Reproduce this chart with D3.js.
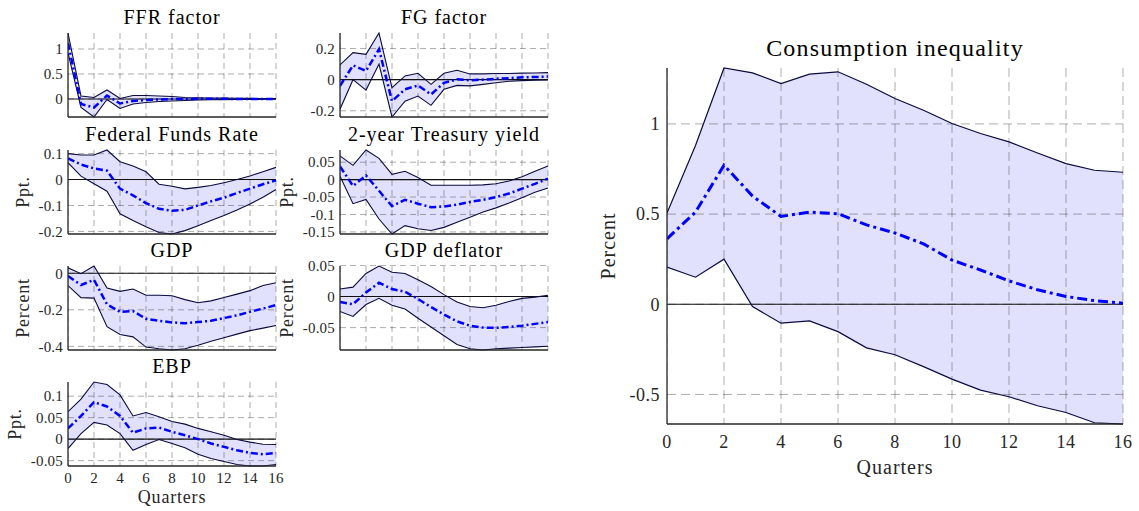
<!DOCTYPE html>
<html>
<head>
<meta charset="utf-8">
<script src="https://cdn.jsdelivr.net/npm/d3@7"></script>
<style>
  body { margin: 0; background: #fff; }
  svg text { font-family: "Liberation Serif", "Times New Roman", serif; }
</style>
</head>
<body>
<svg id="fig" width="1139" height="511"></svg>
<script>
// Horizon in quarters after the shock
const quarters = [0, 1, 2, 3, 4, 5, 6, 7, 8, 9, 10, 11, 12, 13, 14, 15, 16];
const xTicks = [0, 2, 4, 6, 8, 10, 12, 14, 16];

// FFR factor
const ffrFactorUpper = [1.32, 0.06, 0.03, 0.18, 0.01, 0.07, 0.07, 0.06, 0.05, 0.03, 0.025, 0.02, 0.018, 0.015, 0.012, 0.01, 0.01];
const ffrFactorMean  = [1.12, -0.10, -0.17, 0.07, -0.09, -0.04, -0.02, -0.01, 0.0, 0.0, 0.003, 0.003, 0.003, 0.002, 0.002, 0.002, 0.002];
const ffrFactorLower = [0.92, -0.17, -0.36, -0.01, -0.19, -0.10, -0.07, -0.05, -0.04, -0.03, -0.02, -0.015, -0.012, -0.01, -0.008, -0.006, -0.005];
const ffrFactorTicks = [0, 0.5, 1];

// FG factor
const fgFactorUpper = [0.095, 0.174, 0.163, 0.30, -0.052, 0.024, 0.041, -0.03, 0.041, 0.06, 0.037, 0.037, 0.04, 0.04, 0.042, 0.043, 0.045];
const fgFactorMean  = [-0.04, 0.092, 0.056, 0.196, -0.138, -0.062, -0.037, -0.095, -0.02, 0.002, -0.004, 0.0, 0.006, 0.01, 0.015, 0.017, 0.02];
const fgFactorLower = [-0.19, 0.0, -0.067, 0.10, -0.24, -0.138, -0.105, -0.165, -0.062, -0.037, -0.04, -0.03, -0.02, -0.01, -0.006, -0.004, -0.002];
const fgFactorTicks = [-0.2, 0, 0.2];

// Federal Funds Rate
const ffrUpper = [0.10, 0.095, 0.095, 0.114, 0.069, 0.052, 0.03, -0.018, -0.026, -0.036, -0.03, -0.023, -0.012, 0.0, 0.014, 0.03, 0.047];
const ffrMean  = [0.082, 0.058, 0.043, 0.034, -0.035, -0.061, -0.091, -0.113, -0.12, -0.117, -0.10, -0.084, -0.07, -0.052, -0.035, -0.018, -0.003];
const ffrLower = [0.065, 0.013, -0.016, -0.045, -0.132, -0.158, -0.182, -0.204, -0.21, -0.197, -0.178, -0.158, -0.139, -0.117, -0.094, -0.068, -0.038];
const ffrTicks = [-0.2, -0.1, 0, 0.1];

// 2-year Treasury yield
const tsyUpper = [0.068, 0.041, 0.085, 0.061, 0.015, 0.024, 0.006, -0.016, -0.016, -0.016, -0.016, -0.015, -0.012, -0.004, 0.008, 0.024, 0.039];
const tsyMean  = [0.038, -0.018, 0.012, -0.032, -0.076, -0.058, -0.069, -0.079, -0.077, -0.072, -0.064, -0.058, -0.05, -0.04, -0.026, -0.012, 0.003];
const tsyLower = [0.01, -0.069, -0.057, -0.113, -0.156, -0.132, -0.141, -0.146, -0.137, -0.122, -0.108, -0.093, -0.081, -0.067, -0.052, -0.036, -0.024];
const tsyTicks = [-0.15, -0.1, -0.05, 0, 0.05];

// GDP
const gdpUpper = [0.03, -0.002, 0.04, -0.08, -0.099, -0.086, -0.12, -0.12, -0.123, -0.144, -0.161, -0.151, -0.133, -0.114, -0.095, -0.067, -0.052];
const gdpMean  = [-0.015, -0.064, -0.036, -0.17, -0.211, -0.207, -0.249, -0.26, -0.269, -0.273, -0.267, -0.26, -0.245, -0.23, -0.211, -0.193, -0.174];
const gdpLower = [-0.067, -0.133, -0.136, -0.292, -0.335, -0.348, -0.404, -0.413, -0.42, -0.413, -0.394, -0.372, -0.353, -0.333, -0.314, -0.30, -0.286];
const gdpTicks = [-0.4, -0.2, 0];

// GDP deflator
const deflUpper = [0.012, 0.015, 0.037, 0.049, 0.039, 0.037, 0.027, 0.016, 0.003, -0.009, -0.016, -0.018, -0.014, -0.008, -0.003, -0.001, 0.002];
const deflMean  = [-0.009, -0.0125, 0.0065, 0.022, 0.012, 0.0076, -0.004, -0.017, -0.029, -0.04, -0.047, -0.05, -0.0505, -0.049, -0.047, -0.044, -0.041];
const deflLower = [-0.024, -0.032, -0.013, -0.003, -0.014, -0.02, -0.035, -0.049, -0.063, -0.077, -0.084, -0.086, -0.084, -0.083, -0.082, -0.081, -0.08];
const deflTicks = [-0.05, 0, 0.05];

// EBP
const ebpUpper = [0.064, 0.093, 0.133, 0.127, 0.103, 0.054, 0.062, 0.052, 0.041, 0.035, 0.025, 0.017, 0.009, -0.001, -0.007, -0.012, -0.0125];
const ebpMean  = [0.025, 0.054, 0.086, 0.076, 0.054, 0.015, 0.025, 0.027, 0.017, 0.009, 0.0, -0.01, -0.018, -0.026, -0.032, -0.035, -0.032];
const ebpLower = [-0.022, 0.013, 0.039, 0.033, 0.013, -0.026, -0.0125, -0.001, -0.01, -0.02, -0.035, -0.045, -0.052, -0.059, -0.0625, -0.0625, -0.059];
const ebpTicks = [-0.05, 0, 0.05, 0.1];

// Consumption inequality
const consUpper = [0.506, 0.88, 1.31, 1.283, 1.224, 1.276, 1.289, 1.22, 1.141, 1.076, 1.002, 0.947, 0.90, 0.839, 0.78, 0.743, 0.732];
const consMean  = [0.363, 0.511, 0.771, 0.60, 0.487, 0.511, 0.502, 0.44, 0.395, 0.335, 0.245, 0.19, 0.13, 0.08, 0.043, 0.02, 0.006];
const consLower = [0.206, 0.15, 0.25, -0.013, -0.105, -0.092, -0.152, -0.242, -0.28, -0.346, -0.415, -0.476, -0.513, -0.563, -0.60, -0.657, -0.664];
const consTicks = [-0.5, 0, 0.5, 1];

const svg = d3.select("#fig");

const fmt = v => String(v);

const styles = {
  small: {
    titleSize: 20, titleSpacing: 1, titleGap: 9,
    tickSize: 15, tickSpacing: 0.2, tickGap: 5,
    xTickOffset: 17,
    labelSize: 18, labelSpacing: 0.8, labelGap: 16,
    xLabelOffset: 37,
    meanWidth: 2.5, meanDash: "7,3,2,3",
    gridDash: "6,4", boundWidth: 1.1
  },
  big: {
    titleSize: 24, titleSpacing: 1.2, titleGap: 12,
    tickSize: 18, tickSpacing: 0.5, tickGap: 7,
    xTickOffset: 24,
    labelSize: 20, labelSpacing: 1, labelGap: 22,
    xLabelOffset: 50,
    meanWidth: 3, meanDash: "10,4,3,4",
    gridDash: "9,5", boundWidth: 1.2
  }
};

function drawPanel(p) {
  const st = styles[p.style];
  const g = svg.append("g");
  const x = d3.scaleLinear().domain([0, 16]).range([p.left, p.left + p.width]);
  const lo = d3.min(p.lower), hi = d3.max(p.upper);
  const y = d3.scaleLinear().domain([lo, hi]).range([p.top + p.height, p.top]);

  const clipId = "clip" + p.id;
  g.append("clipPath").attr("id", clipId).append("rect")
    .attr("x", p.left).attr("y", p.top - 1).attr("width", p.width + 1).attr("height", p.height + 2);
  const plot = g.append("g").attr("clip-path", `url(#${clipId})`);

  // confidence band
  const area = d3.area().x((d, i) => x(quarters[i])).y0((d, i) => y(p.lower[i])).y1(d => y(d));
  plot.append("path").datum(p.upper).attr("d", area).attr("fill", "#e1e1fd").attr("stroke", "none");

  // dashed grid
  const grid = plot.append("g").attr("stroke", "#262626").attr("stroke-opacity", 0.38)
    .attr("stroke-width", 1).attr("stroke-dasharray", st.gridDash);
  grid.selectAll("line.v").data(xTicks).join("line").attr("class", "v")
    .attr("x1", d => x(d)).attr("x2", d => x(d)).attr("y1", p.top).attr("y2", p.top + p.height);
  grid.selectAll("line.h").data(p.ticks).join("line").attr("class", "h")
    .attr("x1", p.left).attr("x2", p.left + p.width).attr("y1", d => y(d)).attr("y2", d => y(d));

  // zero line
  plot.append("line").attr("x1", p.left).attr("x2", p.left + p.width)
    .attr("y1", y(0)).attr("y2", y(0)).attr("stroke", "#111").attr("stroke-width", 1.1);

  // band bounds
  const line = d3.line().x((d, i) => x(quarters[i])).y(d => y(d));
  [p.upper, p.lower].forEach(s => {
    plot.append("path").datum(s).attr("d", line).attr("fill", "none")
      .attr("stroke", "#0a0a40").attr("stroke-width", st.boundWidth);
  });

  // point estimate
  plot.append("path").datum(p.mean).attr("d", line).attr("fill", "none")
    .attr("stroke", "#0000ff").attr("stroke-width", st.meanWidth)
    .attr("stroke-dasharray", st.meanDash);

  // axes (left and bottom only)
  const axisC = "#262626";
  g.append("line").attr("x1", p.left).attr("x2", p.left).attr("y1", p.top).attr("y2", p.top + p.height)
    .attr("stroke", axisC).attr("stroke-width", 1.3);
  g.append("line").attr("x1", p.left).attr("x2", p.left + p.width).attr("y1", p.top + p.height).attr("y2", p.top + p.height)
    .attr("stroke", axisC).attr("stroke-width", 1.3);

  // y tick labels
  const yl = g.selectAll("text.yt").data(p.ticks).join("text").attr("class", "yt")
    .attr("x", p.left - st.tickGap).attr("y", d => y(d))
    .attr("dy", "0.35em").attr("text-anchor", "end")
    .attr("font-size", st.tickSize).attr("letter-spacing", st.tickSpacing)
    .attr("fill", "#262626").text(fmt);
  let maxW = 0;
  yl.each(function () { maxW = Math.max(maxW, this.getComputedTextLength()); });

  // x tick labels
  if (p.xLabels) {
    g.selectAll("text.xt").data(xTicks).join("text").attr("class", "xt")
      .attr("x", d => x(d)).attr("y", p.top + p.height + st.xTickOffset)
      .attr("text-anchor", "middle").attr("font-size", st.tickSize)
      .attr("letter-spacing", st.tickSpacing).attr("fill", "#262626").text(fmt);
    g.append("text").attr("x", p.left + p.width / 2).attr("y", p.top + p.height + st.xLabelOffset)
      .attr("text-anchor", "middle").attr("font-size", st.labelSize)
      .attr("letter-spacing", st.labelSpacing).attr("fill", "#262626").text("Quarters");
  }

  // y label
  if (p.ylabel) {
    const lx = p.left - st.tickGap - maxW - st.labelGap;
    const ly = p.top + p.height / 2;
    g.append("text").attr("transform", `translate(${lx},${ly}) rotate(-90)`)
      .attr("text-anchor", "middle").attr("dy", "0.35em")
      .attr("font-size", st.labelSize).attr("letter-spacing", st.labelSpacing)
      .attr("fill", "#262626").text(p.ylabel);
  }

  // title
  g.append("text").attr("x", p.left + p.width / 2).attr("y", p.top - st.titleGap)
    .attr("text-anchor", "middle").attr("font-size", st.titleSize)
    .attr("letter-spacing", st.titleSpacing).attr("fill", "#000").text(p.title);
}

// Grid of small panels
const colLeft = [68, 340];
const rowTop = [33, 150, 266, 382];
const sw = 208, sh = 84;

const panels = [
  { title: "FFR factor", ylabel: null, upper: ffrFactorUpper, mean: ffrFactorMean, lower: ffrFactorLower, ticks: ffrFactorTicks, c: 0, r: 0 },
  { title: "FG factor", ylabel: null, upper: fgFactorUpper, mean: fgFactorMean, lower: fgFactorLower, ticks: fgFactorTicks, c: 1, r: 0 },
  { title: "Federal Funds Rate", ylabel: "Ppt.", upper: ffrUpper, mean: ffrMean, lower: ffrLower, ticks: ffrTicks, c: 0, r: 1 },
  { title: "2-year Treasury yield", ylabel: "Ppt.", upper: tsyUpper, mean: tsyMean, lower: tsyLower, ticks: tsyTicks, c: 1, r: 1 },
  { title: "GDP", ylabel: "Percent", upper: gdpUpper, mean: gdpMean, lower: gdpLower, ticks: gdpTicks, c: 0, r: 2 },
  { title: "GDP deflator", ylabel: "Percent", upper: deflUpper, mean: deflMean, lower: deflLower, ticks: deflTicks, c: 1, r: 2 },
  { title: "EBP", ylabel: "Ppt.", upper: ebpUpper, mean: ebpMean, lower: ebpLower, ticks: ebpTicks, c: 0, r: 3, xLabels: true }
];

panels.forEach((p, i) => drawPanel(Object.assign({}, p, {
  id: i, style: "small", left: colLeft[p.c], top: rowTop[p.r], width: sw, height: sh
})));

// Large panel
drawPanel({
  id: "big", style: "big", title: "Consumption inequality", ylabel: "Percent",
  upper: consUpper, mean: consMean, lower: consLower, ticks: consTicks,
  left: 667, top: 68, width: 456, height: 356, xLabels: true
});
</script>
</body>
</html>
